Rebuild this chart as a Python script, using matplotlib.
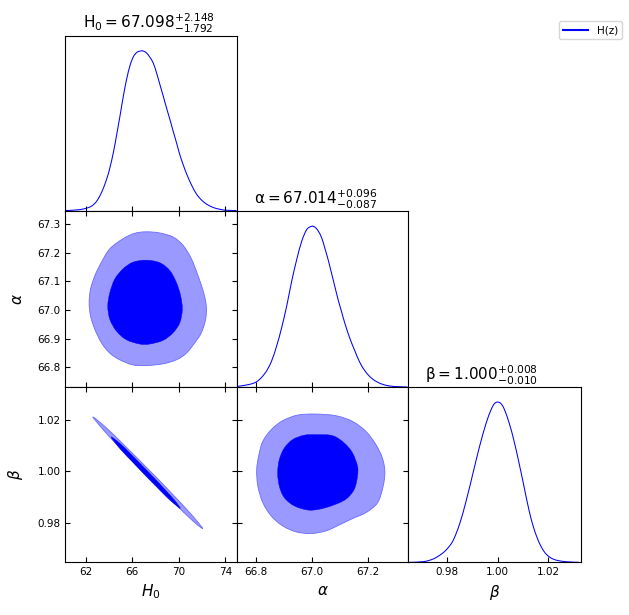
import matplotlib
matplotlib.use("Agg")
import matplotlib.pyplot as plt
from matplotlib.lines import Line2D
from matplotlib.path import Path
from matplotlib.patches import PathPatch

# ---------------- data ----------------
params = ["H0", "alpha", "beta"]
axis_labels = [r"$H_0$", r"$\alpha$", r"$\beta$"]
titles = [r"$\mathrm{H_0} = 67.098^{+2.148}_{-1.792}$",
          r"$\mathrm{\alpha} = 67.014^{+0.096}_{-0.087}$",
          r"$\mathrm{\beta} = 1.000^{+0.008}_{-0.010}$"]
legend_label = "H(z)"

h0_x = [60.29, 61.26, 62.00, 62.54, 62.97, 63.40, 63.83, 64.11, 64.40, 64.69,
        64.97, 65.26, 65.54, 65.83, 66.11, 66.40, 66.69, 66.86, 67.03, 67.26,
        67.54, 67.83, 68.11, 68.40, 68.69, 68.97, 69.26, 69.54, 69.83, 70.11,
        70.40, 70.69, 71.11, 71.54, 71.97, 72.40, 72.97, 73.54, 74.11, 74.97]
h0_p = [0.004, 0.008, 0.017, 0.033, 0.064, 0.121, 0.204, 0.277, 0.370, 0.484,
        0.599, 0.723, 0.827, 0.911, 0.963, 0.990, 0.998, 1.000, 0.996, 0.985,
        0.958, 0.921, 0.859, 0.786, 0.713, 0.640, 0.568, 0.495, 0.422, 0.349,
        0.287, 0.231, 0.162, 0.106, 0.069, 0.044, 0.023, 0.012, 0.006, 0.004]

alpha_x = [66.734, 66.773, 66.800, 66.820, 66.838, 66.856, 66.874, 66.892, 66.910,
           66.927, 66.945, 66.963, 66.981, 66.999, 67.011, 67.023, 67.035, 67.046,
           67.058, 67.070, 67.082, 67.094, 67.106, 67.118, 67.136, 67.154, 67.171,
           67.189, 67.207, 67.225, 67.249, 67.279, 67.308, 67.342]
alpha_p = [0.004, 0.015, 0.031, 0.061, 0.102, 0.165, 0.259, 0.374, 0.509,
           0.656, 0.791, 0.906, 0.979, 1.000, 0.994, 0.969, 0.927, 0.864,
           0.791, 0.708, 0.624, 0.541, 0.468, 0.395, 0.301, 0.223, 0.154,
           0.102, 0.065, 0.040, 0.019, 0.006, 0.002, 0.000]

beta_x = [0.96485, 0.97049, 0.97443, 0.97770, 0.97993, 0.98230, 0.98492, 0.98754,
          0.99016, 0.99279, 0.99541, 0.99738, 0.99869, 1.00000, 1.00131, 1.00262,
          1.00459, 1.00656, 1.00852, 1.01049, 1.01246, 1.01443, 1.01639, 1.01836,
          1.02033, 1.02295, 1.02689, 1.03213]
beta_p = [0.000, 0.004, 0.021, 0.052, 0.084, 0.136, 0.241, 0.387,
          0.554, 0.722, 0.868, 0.952, 0.990, 1.000, 0.990, 0.956,
          0.868, 0.753, 0.617, 0.471, 0.324, 0.209, 0.126, 0.069,
          0.036, 0.015, 0.004, 0.000]

# 2D contours (95% outer, 68% inner)
h0a_outer_h = [67.23, 68.37, 69.51, 70.37, 71.09, 71.66, 72.14, 72.37, 72.31, 71.94,
               71.37, 70.66, 69.80, 68.66, 67.23, 66.09, 64.94, 64.09, 63.37, 62.80,
               62.43, 62.31, 62.43, 62.80, 63.37, 64.09, 65.23, 66.23]
h0a_outer_a = [67.273, 67.269, 67.255, 67.226, 67.179, 67.120, 67.061, 67.014, 66.967, 66.920,
               66.885, 66.849, 66.826, 66.812, 66.806, 66.808, 66.826, 66.849, 66.885, 66.932,
               66.979, 67.026, 67.073, 67.120, 67.167, 67.214, 67.249, 67.268]
h0a_inner_h = [67.23, 68.37, 69.23, 69.80, 70.17, 70.31, 70.09, 69.51, 68.66, 67.51,
               66.66, 65.51, 64.66, 64.09, 63.91, 64.09, 64.51, 65.23, 66.09]
h0a_inner_a = [67.174, 67.165, 67.138, 67.096, 67.049, 67.002, 66.955, 66.920, 66.894, 66.881,
               66.881, 66.896, 66.926, 66.967, 67.014, 67.061, 67.108, 67.144, 67.167]

h0b_outer_h = [62.63, 63.5, 64.5, 65.5, 66.5, 67.5, 68.5, 69.5, 70.5, 71.5, 72.06,
               71.5, 70.5, 69.5, 68.5, 67.5, 66.5, 65.5, 64.5, 63.5]
h0b_outer_b = [1.0212, 1.0181, 1.0139, 1.0094, 1.0049, 1.0003, 0.9957, 0.9909, 0.9861, 0.9810, 0.9777,
               0.9795, 0.9837, 0.9881, 0.9926, 0.9971, 1.0018, 1.0065, 1.0113, 1.0163]
h0b_inner_h = [64.2, 65.0, 66.0, 67.0, 68.0, 69.0, 69.7, 70.14,
               69.7, 69.0, 68.0, 67.0, 66.0, 65.0]
h0b_inner_b = [1.0134, 1.0107, 1.0062, 1.0016, 0.9969, 0.9920, 0.9884, 0.9856,
               0.9870, 0.9898, 0.9944, 0.9990, 1.0038, 1.0086]

ab_outer_a = [67.014, 67.086, 67.145, 67.193, 67.229, 67.252, 67.261, 67.255, 67.235, 67.193,
              67.145, 67.098, 67.050, 66.996, 66.943, 66.895, 66.854, 66.824, 66.806, 66.802,
              66.810, 66.824, 66.854, 66.895, 66.949]
ab_outer_b = [1.02233, 1.02168, 1.01948, 1.01560, 1.01042, 1.00524, 1.00006, 0.99424, 0.98777, 0.98388,
              0.98155, 0.97909, 0.97676, 0.97573, 0.97638, 0.97871, 0.98259, 0.98777, 0.99424, 1.00071,
              1.00654, 1.01172, 1.01625, 1.01974, 1.02194]
ab_inner_a = [67.020, 67.074, 67.115, 67.145, 67.163, 67.163, 67.151, 67.121, 67.074, 67.026,
              66.985, 66.937, 66.901, 66.883, 66.877, 66.883, 66.901, 66.931, 66.973]
ab_inner_b = [1.0143, 1.0139, 1.0111, 1.0072, 1.0020, 0.9981, 0.9929, 0.9891, 0.9867, 0.9852,
              0.9849, 0.9865, 0.9897, 0.9942, 0.9994, 1.0046, 1.0091, 1.0124, 1.0141]

limits = [(60.26, 75.0), (66.731, 67.345), (0.9645, 1.0329)]
xticks = [[62, 66, 70, 74], [66.8, 67.0, 67.2], [0.98, 1.00, 1.02]]
xticklabels = [["62", "66", "70", "74"], ["66.8", "67.0", "67.2"], ["0.98", "1.00", "1.02"]]
yticks = {1: [66.8, 66.9, 67.0, 67.1, 67.2, 67.3], 2: [0.98, 1.00, 1.02]}
yticklabels = {1: ["66.8", "66.9", "67.0", "67.1", "67.2", "67.3"], 2: ["0.98", "1.00", "1.02"]}

# ---------------- styling ----------------
LINE = "#0000ff"
DARK = "#0000ff"
LIGHT = "#9999ff"
EDGE = "#6b6bff"
TICK_FS = 7.5
LABEL_FS = 11
TITLE_FS = 11
TITLE_X = [0.485, 0.459, 0.428]


def smooth_path(xs, ys, closed=False):
    """Catmull-Rom spline through the given points, as a Bezier Path (rendering only)."""
    pts = list(zip(xs, ys))
    n = len(pts)
    verts = [pts[0]]
    codes = [Path.MOVETO]
    segs = n if closed else n - 1
    for i in range(segs):
        p0 = pts[(i - 1) % n] if (closed or i > 0) else pts[i]
        p1 = pts[i]
        p2 = pts[(i + 1) % n]
        p3 = pts[(i + 2) % n] if (closed or i + 2 < n) else pts[(i + 1) % n]
        c1 = (p1[0] + (p2[0] - p0[0]) / 6.0, p1[1] + (p2[1] - p0[1]) / 6.0)
        c2 = (p2[0] - (p3[0] - p1[0]) / 6.0, p2[1] - (p3[1] - p1[1]) / 6.0)
        verts += [c1, c2, p2]
        codes += [Path.CURVE4] * 3
    if closed:
        verts.append(pts[0])
        codes.append(Path.CLOSEPOLY)
    return Path(verts, codes)


W, H = 629, 615
fig = plt.figure(figsize=(W / 100, H / 100), dpi=100)

col_edges = [65.3, 236.9, 408.3, 580.5]
row_edges = [35.7, 211.2, 387.0, 562.3]

axes = {}
for i in range(3):
    for j in range(i + 1):
        x0 = col_edges[j] / W
        w = (col_edges[j + 1] - col_edges[j]) / W
        y0 = 1 - row_edges[i + 1] / H
        h = (row_edges[i + 1] - row_edges[i]) / H
        axes[(i, j)] = fig.add_axes([x0, y0, w, h])

marg = [(h0_x, h0_p), (alpha_x, alpha_p), (beta_x, beta_p)]
for k in range(3):
    ax = axes[(k, k)]
    ax.add_patch(PathPatch(smooth_path(marg[k][0], marg[k][1]), facecolor="none",
                           edgecolor=LINE, lw=0.75))
    ax.set_xlim(*limits[k])
    ax.set_ylim(0, 1.094)
    ax.set_yticks([])
    ax.set_xticks(xticks[k])
    ax.tick_params(axis="x", direction="in", labelsize=TICK_FS, top=False,
                   labelbottom=(k == 2))
    if k == 2:
        ax.set_xticklabels(xticklabels[k])
        ax.set_xlabel(axis_labels[k], fontsize=LABEL_FS)
    ax.set_title(titles[k], fontsize=TITLE_FS, pad=5, x=TITLE_X[k])

contours = {
    (1, 0): ((h0a_outer_h, h0a_outer_a), (h0a_inner_h, h0a_inner_a)),
    (2, 0): ((h0b_outer_h, h0b_outer_b), (h0b_inner_h, h0b_inner_b)),
    (2, 1): ((ab_outer_a, ab_outer_b), (ab_inner_a, ab_inner_b)),
}
for (i, j), (outer, inner) in contours.items():
    ax = axes[(i, j)]
    ax.add_patch(PathPatch(smooth_path(outer[0], outer[1], closed=True),
                           facecolor=LIGHT, edgecolor=EDGE, lw=0.6))
    ax.add_patch(PathPatch(smooth_path(inner[0], inner[1], closed=True),
                           facecolor=DARK, edgecolor=DARK, lw=0.3))
    ax.set_xlim(*limits[j])
    ax.set_ylim(*limits[i])
    ax.set_xticks(xticks[j])
    ax.set_yticks(yticks[i])
    ax.tick_params(direction="in", labelsize=TICK_FS, top=True, right=True,
                   labelbottom=(i == 2), labelleft=(j == 0))
    if i == 2:
        ax.set_xticklabels(xticklabels[j])
        ax.set_xlabel(axis_labels[j], fontsize=LABEL_FS)
    if j == 0:
        ax.set_yticklabels(yticklabels[i])
        ax.set_ylabel(axis_labels[i], fontsize=LABEL_FS)
        ax.yaxis.set_label_coords(-0.232, 0.5)

handle = Line2D([], [], color=LINE, lw=1.5)
fig.legend([handle], [legend_label], loc="upper right",
           bbox_to_anchor=(622 / W, 1 - 21 / H), borderaxespad=0,
           fontsize=7.5, handlelength=2.4)

fig.savefig("out.png", dpi=100)
